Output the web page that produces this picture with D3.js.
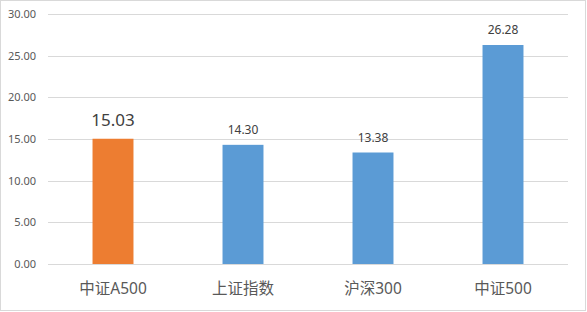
<!DOCTYPE html>
<html>
<head>
<meta charset="utf-8">
<script src="https://cdn.jsdelivr.net/npm/d3@7"></script>
<style>
  body { margin: 0; background: #fff; }
  text { font-family: "Noto Sans", "Noto Sans CJK SC", sans-serif; }
</style>
</head>
<body>
<script>
const categories = ["中证A500", "上证指数", "沪深300", "中证500"];
const values = [15.03, 14.30, 13.38, 26.28];
const yTicks = [0, 5, 10, 15, 20, 25, 30];
const highlight = "中证A500";

const W = 587, H = 312;
const margin = { top: 14, right: 19, bottom: 48, left: 48 };
const width = W - margin.left - margin.right;
const height = H - margin.top - margin.bottom;

const svg = d3.select("body").append("svg").attr("width", W).attr("height", H);

// borde del gráfico
svg.append("rect")
  .attr("x", 0.5).attr("y", 0.5)
  .attr("width", W - 2).attr("height", H - 2)
  .attr("fill", "#fff").attr("stroke", "#d9d9d9");

const g = svg.append("g").attr("transform", `translate(${margin.left},${margin.top})`);

const y = d3.scaleLinear().domain([0, 30]).range([height, 0]);
const x = d3.scaleBand().domain(categories).range([0, width]).paddingInner(0.685).paddingOuter(0.3425);

// rejilla
g.selectAll("line.grid")
  .data(yTicks)
  .enter()
  .append("line")
  .attr("class", "grid")
  .attr("x1", 0).attr("x2", width)
  .attr("y1", (d) => Math.round(y(d)) + 0.5)
  .attr("y2", (d) => Math.round(y(d)) + 0.5)
  .attr("stroke", "#d9d9d9");

const yAxis = d3.axisLeft(y).tickValues(yTicks).tickFormat(d3.format(".2f")).tickSize(0).tickPadding(12);
g.append("g").call(yAxis)
  .call((s) => s.select(".domain").remove())
  .selectAll("text")
  .attr("fill", "#595959")
  .style("font-size", "11px");

const xAxis = d3.axisBottom(x).tickSize(0).tickPadding(19);
g.append("g").attr("transform", `translate(0,${height})`).call(xAxis)
  .call((s) => s.select(".domain").remove())
  .selectAll("text")
  .attr("fill", "#595959")
  .style("font-size", "15.5px");

g.selectAll("rect.bar")
  .data(categories)
  .enter()
  .append("rect")
  .attr("class", "bar")
  .attr("x", (d) => x(d))
  .attr("width", x.bandwidth())
  .attr("y", (d, i) => y(values[i]))
  .attr("height", (d, i) => height - y(values[i]))
  .attr("fill", (d) => (d === highlight ? "#ED7D31" : "#5B9BD5"));

g.selectAll("text.label")
  .data(categories)
  .enter()
  .append("text")
  .attr("class", "label")
  .attr("x", (d) => x(d) + x.bandwidth() / 2)
  .attr("y", (d, i) => y(values[i]) - (d === highlight ? 13 : 11))
  .attr("text-anchor", "middle")
  .attr("fill", "#404040")
  .style("font-size", (d) => (d === highlight ? "17px" : "12px"))
  .text((d, i) => values[i].toFixed(2));
</script>
</body>
</html>
